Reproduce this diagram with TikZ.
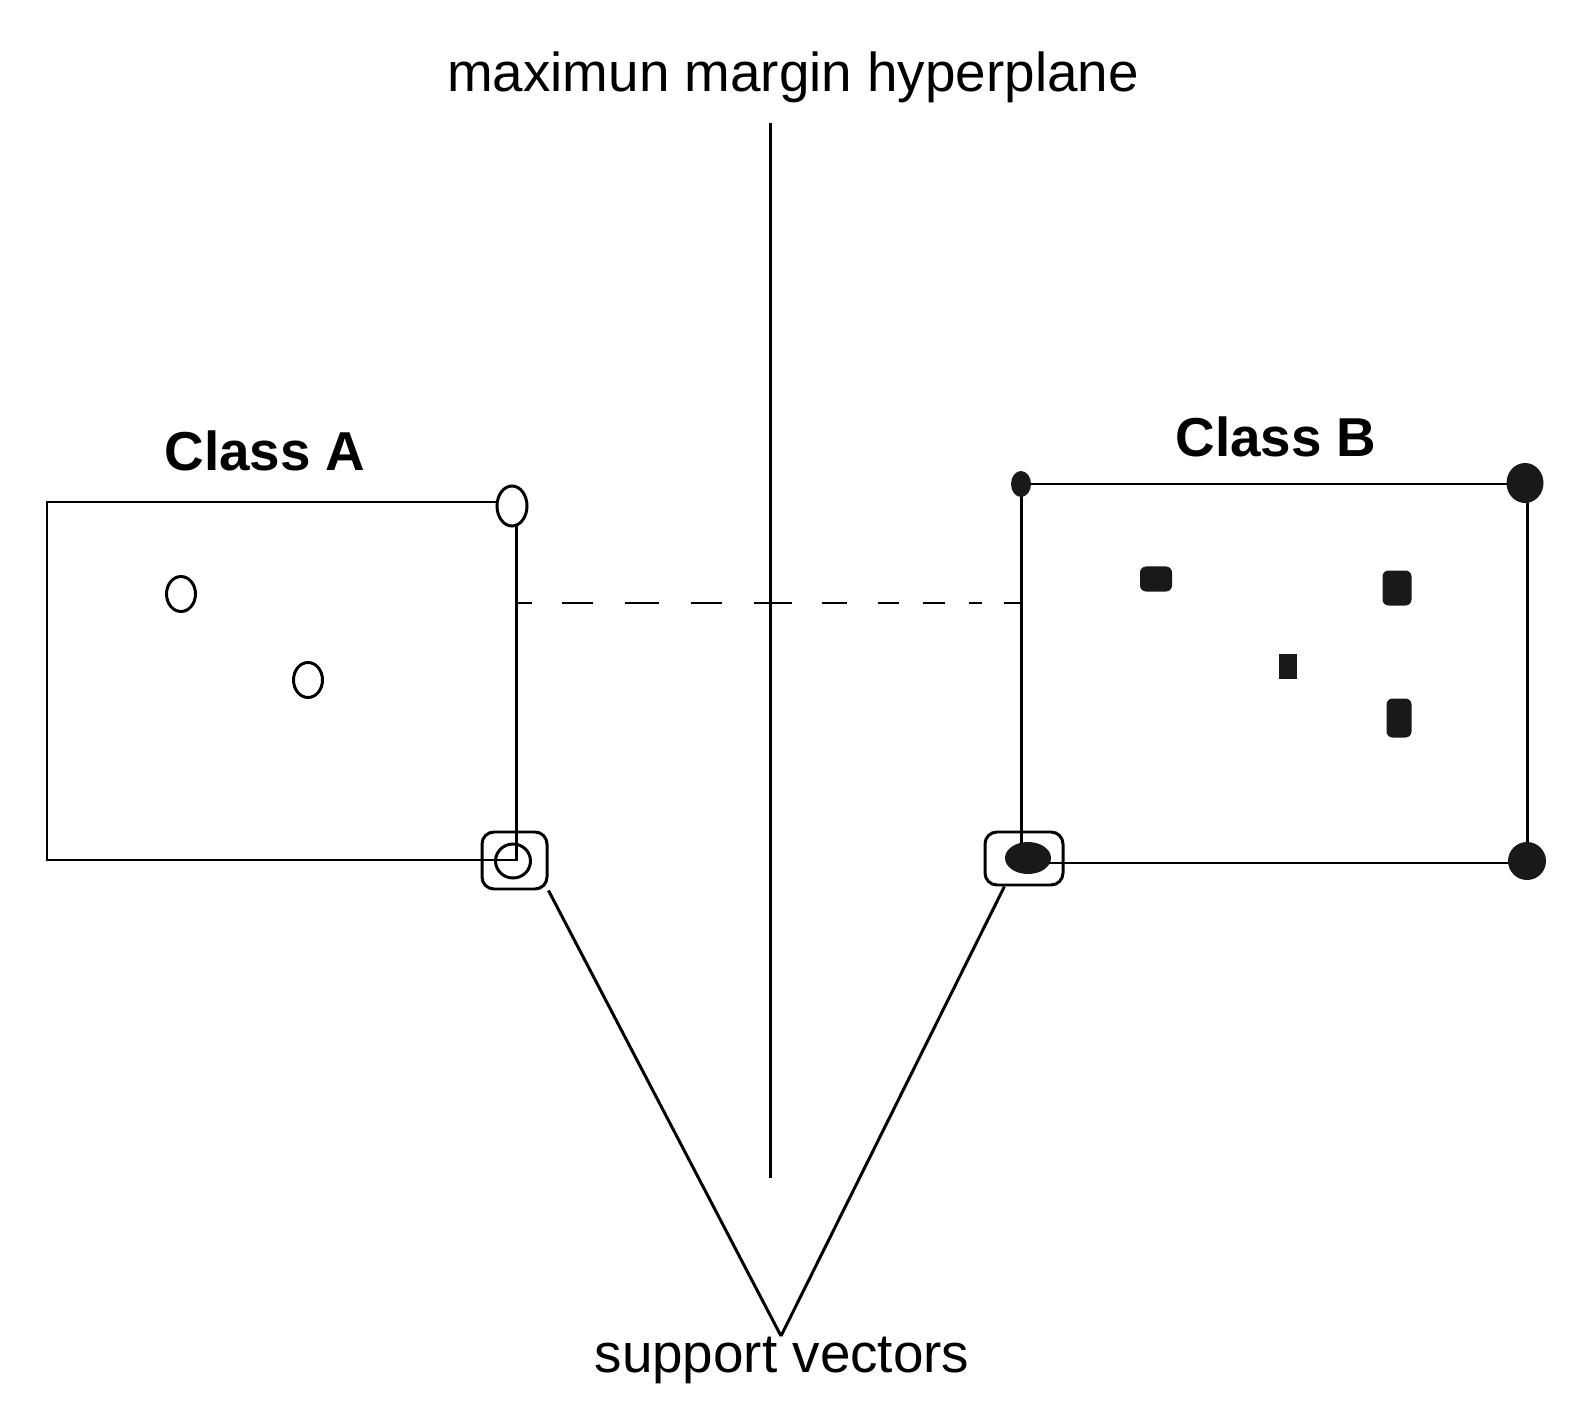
\documentclass[tikz,border=0pt]{standalone}
\usepackage{fontspec}
\setmainfont{Liberation Sans}
\usepackage{tikz}
\usetikzlibrary{shapes.geometric, positioning}

\begin{document}
\begin{tikzpicture}[
    font=\fontsize{15.6}{18}\selectfont,
    line/.style={line width=0.85pt},
    classbox/.style={draw, line width=0.85pt, inner sep=0pt},
    opendot/.style={draw, ellipse, line width=0.85pt, inner sep=0pt, fill=white},
    dot/.style={fill=black!90, ellipse, inner sep=0pt},
    blob/.style={fill=black!90, rectangle, rounded corners=0.6mm, inner sep=0pt},
    svbox/.style={draw, line width=0.85pt, rounded corners=1.2mm, inner sep=0pt},
    label/.style={inner sep=0pt, align=center},
    margindash/.style={line width=0.85pt, dash pattern=on .14cm off .30cm on .31cm off .32cm on .34cm off .32cm on .31cm off .32cm on .38cm off .30cm on .25cm off .31cm on .21cm off .24cm on .22cm off .24cm on .13cm off .22cm on .19cm off .5cm}
]
\useasboundingbox (0,0) rectangle (15.79,-14.12);

\node[label] (title) at (7.93,-0.77) {maximun margin hyperplane};
\coordinate (hypTop) at (7.70,-1.23);
\coordinate (hypBot) at (7.70,-11.78);
\draw[line] (hypTop) -- (hypBot);

\node[classbox, minimum width=4.69cm, minimum height=3.58cm] (boxA) at (2.815,-6.81) {};
\node[classbox, minimum width=5.06cm, minimum height=3.79cm] (boxB) at (12.74,-6.735) {};
\node[label, font=\fontsize{15.6}{18}\selectfont\bfseries] (classA) at (2.65,-4.51) {Class A};
\node[label, font=\fontsize{15.6}{18}\selectfont\bfseries] (classB) at (12.76,-4.37) {Class B};

\coordinate (marg) at (7.70,-6.03);
\draw[margindash] (boxA.east |- marg) -- (boxB.west |- marg);

\node[svbox, minimum width=0.65cm, minimum height=0.57cm] (svA) at (5.145,-8.605) {};
\node[svbox, minimum width=0.78cm, minimum height=0.53cm] (svB) at (10.24,-8.585) {};

\node[opendot, minimum width=0.30cm, minimum height=0.40cm] (aTR) at (5.12,-5.06) {};
\node[opendot, minimum width=0.29cm, minimum height=0.35cm] (a1) at (1.81,-5.94) {};
\node[opendot, minimum width=0.29cm, minimum height=0.35cm] (a2) at (3.08,-6.80) {};
\node[opendot, minimum width=0.35cm, minimum height=0.34cm, fill=none] (aBR) at (5.13,-8.61) {};

\node[dot, minimum width=0.20cm, minimum height=0.26cm] (bTL) at (10.21,-4.84) {};
\node[dot, minimum width=0.37cm, minimum height=0.40cm] (bTR) at (15.25,-4.83) {};
\node[dot, minimum width=0.38cm, minimum height=0.38cm] (bBR) at (15.27,-8.61) {};
\node[dot, minimum width=0.46cm, minimum height=0.32cm] (bBL) at (10.28,-8.58) {};
\node[blob, minimum width=0.32cm, minimum height=0.25cm] (b1) at (11.56,-5.79) {};
\node[blob, minimum width=0.29cm, minimum height=0.35cm] (b2) at (13.97,-5.88) {};
\node[blob, rounded corners=0pt, minimum width=0.18cm, minimum height=0.25cm] (b3) at (12.88,-6.66) {};
\node[blob, minimum width=0.25cm, minimum height=0.39cm] (b4) at (13.99,-7.18) {};

\node[label] (support) at (7.82,-13.60) {support vectors};
\coordinate (apex) at (7.81,-13.36);
\draw[line] (svA.south east) -- (apex);
\draw[line] (svB.235) -- (apex);

\end{tikzpicture}
\end{document}
